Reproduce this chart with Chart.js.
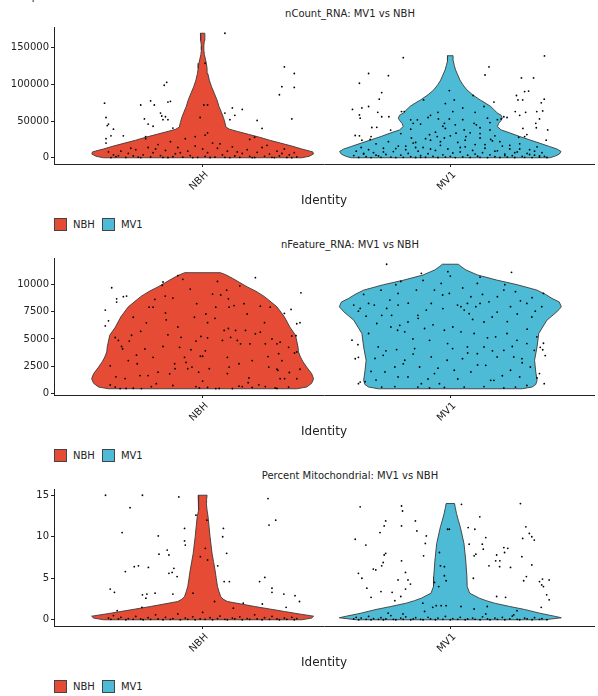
<!DOCTYPE html>
<html>
<head>
<meta charset="utf-8">
<script src="https://cdn.jsdelivr.net/npm/chart.js@4.4.0/dist/chart.umd.min.js"></script>
<style>
  body { margin: 0; background: #fff; width: 598px; height: 696px; overflow: hidden; position: relative; font-family: "DejaVu Sans", sans-serif; color: #222; }
  canvas { position: absolute; left: 0; }
  .ptitle { position: absolute; left: 200px; width: 300px; text-align: center; font-size: 10px; white-space: nowrap; }
  .legend { position: absolute; left: 54px; height: 13px; font-size: 10px; line-height: 13px; white-space: nowrap; }
  .legend .box { display: inline-block; width: 11px; height: 11px; border: 1px solid #444; vertical-align: top; }
  .legend .lab { display: inline-block; margin: 0 7px 0 6px; vertical-align: top; }
</style>
</head>
<body>
<div class="ptitle" style="left:9px;width:auto;top:-9.5px;font-size:10px;">Comparison: MV1 vs NBH</div>

<div class="ptitle" style="top:8px">nCount_RNA: MV1 vs NBH</div>
<canvas id="c1" width="598" height="210" style="top:0px"></canvas>
<div class="legend" style="top:218px"><span class="box" style="background:#E64B35"></span><span class="lab">NBH</span><span class="box" style="background:#4DBBD5"></span><span class="lab">MV1</span></div>

<div class="ptitle" style="top:239px">nFeature_RNA: MV1 vs NBH</div>
<canvas id="c2" width="598" height="205" style="top:236px"></canvas>
<div class="legend" style="top:449px"><span class="box" style="background:#E64B35"></span><span class="lab">NBH</span><span class="box" style="background:#4DBBD5"></span><span class="lab">MV1</span></div>

<div class="ptitle" style="top:470px">Percent Mitochondrial: MV1 vs NBH</div>
<canvas id="c3" width="598" height="202" style="top:470px"></canvas>
<div class="legend" style="top:680px"><span class="box" style="background:#E64B35"></span><span class="lab">NBH</span><span class="box" style="background:#4DBBD5"></span><span class="lab">MV1</span></div>

<script>
// groups on the x axis
const identities = ['NBH', 'MV1'];
const colNBH = '#E64B35';
const colMV1 = '#4DBBD5';

// y tick labels
const countTicks = [0, 50000, 100000, 150000];
const featureTicks = [0, 2500, 5000, 7500, 10000];
const mitoTicks = [0, 5, 10, 15];

// violin outlines: value levels and half widths (in group units)
const nbhCountY = [0, 2000, 5000, 8000, 12000, 16000, 20000, 24000, 28000, 32000, 36000, 39000, 42000, 48000, 55000, 62000, 70000, 79000, 88000, 97000, 106000, 115000, 122000, 129000, 135000, 141000, 147000, 153000, 160000, 166000, 170000];
const nbhCountW = [0.40, 0.43, 0.447, 0.445, 0.40, 0.36, 0.315, 0.27, 0.23, 0.185, 0.14, 0.108, 0.094, 0.09, 0.084, 0.076, 0.066, 0.058, 0.047, 0.036, 0.027, 0.021, 0.018, 0.015, 0.011, 0.007, 0.005, 0.005, 0.007, 0.009, 0.009];
const mv1CountY = [0, 1800, 5000, 8600, 12000, 15400, 20000, 24500, 29000, 34000, 38000, 42600, 47000, 51000, 54000, 58000, 61000, 66000, 70000, 75000, 79000, 86000, 92600, 100000, 106000, 113000, 120000, 126000, 132000, 136000, 139300];
const mv1CountW = [0.40, 0.42, 0.44, 0.447, 0.43, 0.40, 0.36, 0.32, 0.28, 0.24, 0.205, 0.19, 0.195, 0.205, 0.21, 0.205, 0.19, 0.175, 0.163, 0.14, 0.12, 0.09, 0.067, 0.05, 0.039, 0.03, 0.021, 0.016, 0.012, 0.011, 0.011];

const nbhFeatY = [400, 560, 900, 1330, 1800, 2400, 2900, 3330, 3800, 4260, 4800, 5340, 6100, 7040, 7960, 8900, 9400, 9800, 10200, 10600, 10900, 11110];
const nbhFeatW = [0.38, 0.42, 0.44, 0.448, 0.44, 0.42, 0.405, 0.395, 0.387, 0.385, 0.38, 0.375, 0.352, 0.33, 0.30, 0.25, 0.215, 0.18, 0.15, 0.12, 0.095, 0.072];
const mv1FeatY = [400, 560, 800, 1180, 1950, 3030, 4260, 5500, 6730, 7500, 7960, 8400, 8740, 9100, 9500, 10000, 10430, 10900, 11360, 11650, 11890];
const mv1FeatW = [0.29, 0.33, 0.345, 0.35, 0.345, 0.34, 0.35, 0.357, 0.39, 0.43, 0.448, 0.44, 0.41, 0.385, 0.35, 0.27, 0.187, 0.11, 0.063, 0.045, 0.032];

const nbhMitoY = [0, 0.2, 0.43, 0.7, 1.0, 1.3, 1.6, 1.9, 2.2, 2.5, 2.8, 3.4, 4.0, 5.0, 6.0, 7.0, 8.0, 9.0, 10.0, 11.2, 12.4, 13.2, 14.0, 14.5, 15.0];
const nbhMitoW = [0.40, 0.44, 0.448, 0.39, 0.33, 0.27, 0.21, 0.155, 0.10, 0.082, 0.073, 0.066, 0.06, 0.055, 0.05, 0.044, 0.038, 0.034, 0.03, 0.026, 0.022, 0.018, 0.015, 0.016, 0.018];
const mv1MitoY = [0, 0.24, 0.43, 0.8, 1.24, 1.6, 2.0, 2.3, 2.6, 3.2, 4.0, 5.2, 7.2, 9.2, 11.2, 12.0, 12.8, 13.5, 14.0];
const mv1MitoW = [0.38, 0.448, 0.42, 0.36, 0.30, 0.24, 0.178, 0.145, 0.117, 0.078, 0.068, 0.067, 0.062, 0.055, 0.04, 0.032, 0.025, 0.02, 0.017];

// jittered cells: [offset from group centre, value]
const nbhCountPts = [[-0.396,74500],[-0.39,55000],[-0.38,46000],[-0.385,44000],[-0.36,39000],[-0.37,30000],[-0.39,26000],[-0.39,20000],[-0.32,30000],[-0.25,72000],[-0.21,77600],[-0.195,72000],[-0.235,53000],[-0.22,46000],[-0.2,43000],[-0.155,99000],[-0.145,103000],[-0.14,76000],[-0.13,77000],[-0.17,61000],[-0.165,57000],[-0.15,56000],[-0.16,52000],[-0.14,52000],[-0.23,29000],[-0.23,26000],[-0.12,40500],[0.09,170000],[0.01,129000],[0.02,72000],[0.005,72000],[-0.01,55000],[0.09,61000],[0.12,68000],[0.16,66000],[0.13,58000],[0.11,52000],[0.22,51000],[0.24,40000],[0.21,28000],[0.19,25000],[0.33,124000],[0.37,115000],[0.32,97000],[0.37,96000],[0.31,86000],[0.36,53000],[0.01,31000],[-0.03,29000],[0.02,34000],
  [-0.38,8000],[-0.36,4000],[-0.35,1500],[-0.33,9000],[-0.31,500],[-0.3,6000],[-0.28,2500],[-0.27,11000],[-0.26,800],[-0.24,4000],[-0.22,14000],[-0.21,1200],[-0.2,7000],[-0.18,18000],[-0.17,3000],[-0.16,500],[-0.15,10000],[-0.13,22000],[-0.12,1500],[-0.11,5500],[-0.1,14000],[-0.08,800],[-0.07,26000],[-0.06,9000],[-0.05,3000],[-0.03,16000],[-0.02,600],[0,12000],[0.01,2000],[0.02,7000],[0.04,20000],[0.05,1000],[0.06,13000],[0.08,4000],[0.09,600],[0.1,9000],[0.12,15000],[0.13,2500],[0.15,600],[0.16,6000],[0.18,11000],[0.19,1800],[0.21,400],[0.22,7500],[0.24,14000],[0.25,2000],[0.27,5000],[0.28,600],[0.3,9000],[0.31,2500],[0.33,12000],[0.34,500],[0.35,4000],[0.37,7000],[0.38,1200],[-0.37,300],[-0.34,2800],[-0.29,13000],[-0.25,300],[-0.19,12000],[-0.14,400],[-0.09,7000],[-0.04,300],[0.03,400],[0.07,19000],[0.11,300],[0.14,8000],[0.2,300],[0.26,17000],[0.29,300],[0.32,6000],[0.36,200]];

const mv1CountPts = [[-0.19,136600],[0.38,139000],[0.156,124000],[0.14,113000],[-0.33,115000],[-0.25,112000],[-0.367,101700],[0.287,109000],[0.336,109000],[-0.277,89000],[-0.287,80000],[-0.395,66000],[-0.357,68000],[-0.33,70000],[-0.367,58500],[-0.364,54000],[-0.293,62000],[-0.277,56000],[-0.248,56000],[-0.197,63000],[-0.186,63000],[-0.317,41300],[-0.297,41600],[-0.241,37800],[-0.384,30400],[-0.367,30000],[-0.32,29000],[-0.357,24000],[-0.324,25000],[-0.108,79000],[-0.004,91700],[0.016,79000],[0.092,85000],[0.176,76000],[0.136,70000],[0.216,56000],[0.229,55000],[0.267,85000],[0.3,90300],[0.316,91000],[0.273,79000],[0.292,79000],[0.379,80000],[0.367,75000],[0.262,63000],[0.304,62000],[0.349,63000],[0.373,64000],[0.28,58000],[0.345,47000],[0.36,53000],[0.347,41000],[0.393,38000],[0.293,40000],[0.309,31700],[0.3,29000],[0.276,28000],[0.387,24000],
  [-0.16,51800],[-0.15,47000],[-0.133,51800],[-0.09,55000],[-0.05,62000],[-0.048,53000],[-0.024,47000],[-0.03,43000],[-0.053,29000],[-0.004,53000],[0.01,63000],[0.05,52000],[0.056,38000],[0.096,47000],[0.105,45000],[0.15,54000],[0.16,38000],[0.19,52000],[0.205,53000],[0.023,33600],[0.063,29000],[0.12,27000],[0.163,25000],[-0.024,27000],[-0.084,31500],[-0.157,27000],
  [-0.35,6000],[-0.3,3500],[-0.27,8000],[-0.22,12500],[-0.18,16000],[-0.14,21000],[-0.12,600],[-0.1,26000],[-0.08,12000],[-0.06,35000],[-0.04,22000],[-0.02,40000],[0.0,30000],[0.02,45000],[0.04,14000],[0.06,24000],[0.08,34000],[0.1,5000],[0.12,41000],[0.14,18000],[0.16,48000],[0.18,9000],[0.2,22000],[0.22,3000],[0.24,17000],[0.26,7000],[0.28,12000],[0.32,4500],[0.34,9000],[0.36,2500],[-0.2,33000],[-0.16,39000],[-0.12,46000],[-0.08,58000],[0.05,68000],[0.1,62000],[-0.02,74000],[0.12,33000],[-0.14,14000],[0.18,30000],
  [-0.39,3000],[-0.38,9000],[-0.37,500],[-0.36,14000],[-0.35,5000],[-0.34,1500],[-0.33,11000],[-0.32,300],[-0.31,7000],[-0.3,19000],[-0.29,2500],[-0.28,600],[-0.27,13000],[-0.26,4500],[-0.25,22000],[-0.24,1000],[-0.23,8500],[-0.22,300],[-0.21,16000],[-0.2,3500],[-0.19,600],[-0.18,11000],[-0.17,6000],[-0.16,1500],[-0.15,20000],[-0.14,400],[-0.13,9000],[-0.12,3000],[-0.11,14000],[-0.1,700],[-0.09,5500],[-0.08,24000],[-0.07,1800],[-0.06,10000],[-0.05,400],[-0.04,17000],[-0.03,4000],[-0.02,900],[-0.01,12000],[0.0,2000],[0.01,6500],[0.02,300],[0.03,21000],[0.04,8000],[0.05,1200],[0.06,15000],[0.07,3500],[0.08,500],[0.09,10000],[0.1,18000],[0.11,2200],[0.12,600],[0.13,7000],[0.14,13000],[0.15,300],[0.16,4000],[0.17,23000],[0.18,1500],[0.19,9500],[0.2,500],[0.21,16000],[0.22,5000],[0.23,1000],[0.24,12000],[0.25,2800],[0.26,400],[0.27,8000],[0.28,19000],[0.29,1800],[0.3,600],[0.31,6000],[0.32,11000],[0.33,300],[0.34,3500],[0.35,15000],[0.36,900],[0.37,7000],[0.38,2000],[0.39,400]];

const nbhFeatPts = [[-0.393,7660],[-0.38,6670],[-0.367,9720],[-0.347,8700],[-0.347,8400],[-0.32,8900],[-0.307,8950],[-0.393,6200],[-0.16,10250],[-0.163,9950],[-0.1,10840],[0.213,10650],[0.397,9250],[0.357,7720],[0.33,7350],[0.393,6500],[0.38,6400],[0.377,5300],[0.38,3800],[0.393,2200],[0.313,4700],
  [-0.353,5130],[-0.34,4860],[-0.327,4300],[-0.323,4070],[-0.373,2520],[-0.313,1340],[-0.296,4800],[-0.287,5340],[-0.267,3500],[-0.264,2710],[-0.253,1620],[-0.233,4070],[-0.227,6480],[-0.22,1620],[-0.216,7930],[-0.2,7930],[-0.193,8640],[-0.187,870],[-0.18,1930],[-0.16,4300],[-0.151,8950],[-0.147,6760],[-0.14,5380],[-0.133,1780],[-0.12,8770],[-0.113,2710],[-0.111,2250],[-0.093,4220],[-0.087,5150],[-0.073,3300],[-0.067,2830],[-0.06,2250],[-0.047,4000],[-0.043,2400],[-0.033,7000],[-0.027,4800],[-0.024,8250],[-0.016,1930],[-0.009,3400],[-0.007,5230],[0,3400],[0.011,3900],[0.013,7300],[0.02,6500],[0.02,5100],[0.027,2250],[0.04,9140],[0.053,7930],[0.073,9050],[0.08,4860],[0.087,5780],[0.097,9500],[0.104,8700],[0.104,5960],[0.107,7930],[0.1,3300],[0.107,2400],[0.113,5150],[0.127,8080],[0.133,5780],[0.14,4860],[0.147,2710],[0.153,4550],[0.167,8250],[0.173,5780],[0.18,7300],[0.187,1400],[0.184,960],[0.191,4550],[0.213,5470],[0.233,8020],[0.233,5620],[0.253,4550],[0.264,3370],[0.267,2400],[0.273,7930],[0.3,4550],[0.304,2100],[0.307,3640],[0.313,1330],[0.32,2990],[0.331,1330],[0.347,4220],[0.36,5280],[0.371,3700],
  [-0.3,3000],[-0.25,5700],[-0.2,3300],[-0.15,7400],[-0.1,6100],[-0.05,9600],[0,1100],[0.05,6900],[0.1,1800],[0.15,9900],[0.2,3000],[0.25,6500],[0.3,2200],[-0.35,1500],[0.35,1900],[-0.28,7000],[0.28,5000],[-0.08,10500],[0.06,10300],[0.16,600],
  [-0.373,750],[-0.353,560],[-0.333,420],[-0.309,430],[-0.28,450],[-0.247,420],[-0.207,600],[-0.12,700],[-0.027,600],[-0.013,480],[0.02,520],[0.053,420],[0.067,430],[0.12,420],[0.147,640],[0.2,520],[0.227,760],[0.253,600],[0.293,480],[0.3,430],[0.347,560],[0.38,1330]];

const mv1FeatPts = [[-0.257,11890],[-0.117,11050],[0.247,11140],[-0.397,4880],[-0.373,4470],[-0.384,3170],[-0.371,3300],[-0.371,870],[-0.364,1020],[0.376,9200],[0.376,4600],[0.363,4220],[0.373,4000],[0.383,3460],[0.379,870],[0.36,1800],
  [-0.39,8120],[-0.364,7810],[-0.33,8270],[-0.307,8120],[-0.371,7560],[-0.34,7100],[-0.297,6420],[-0.277,7180],[-0.257,7810],[-0.244,8580],[-0.211,9200],[-0.211,8120],[-0.237,7180],[-0.204,6250],[-0.213,5800],[-0.184,5650],[-0.171,6560],[-0.151,5000],[-0.137,9510],[-0.131,7180],[-0.104,5960],[-0.097,7660],[-0.077,8270],[-0.064,9510],[-0.037,10120],[-0.031,9050],[-0.004,9200],[0.029,8120],[0.043,7970],[0.056,7660],[0.069,8270],[0.076,7330],[0.083,8890],[0.103,7970],[0.109,10120],[0.12,8270],[0.136,6560],[0.156,8420],[0.169,7020],[0.189,7480],[0.216,9510],[0.243,7970],[0.263,9360],[0.283,8510],[0.309,8270],[0.329,7020],[0.343,7560],[0.369,7970],
  [-0.291,4260],[-0.271,3490],[-0.304,3200],[-0.217,4020],[-0.224,2410],[-0.264,1950],[-0.211,1490],[-0.184,3030],[-0.171,1490],[-0.144,4110],[-0.124,2410],[-0.117,870],[-0.084,4870],[-0.077,3340],[-0.064,1800],[-0.044,870],[-0.024,5800],[-0.011,4570],[-0.013,3030],[0.009,4110],[0.016,2110],[0.043,5650],[0.049,3180],[0.069,4260],[0.083,1950],[0.096,5500],[0.109,3640],[0.136,4260],[0.143,2560],[0.163,1180],[0.183,5190],[0.189,3340],[0.216,3950],[0.229,5500],[0.243,2110],[0.256,3340],[0.269,4870],[0.28,1490],[0.289,3180],[0.309,4570],[0.323,2410],[0.339,3950],[0.349,5190],[0.176,1180],
  [-0.33,5500],[-0.3,1200],[-0.28,9500],[-0.26,3900],[-0.24,6100],[-0.22,10000],[-0.19,2700],[-0.17,8300],[-0.15,3600],[-0.13,6900],[-0.11,10400],[-0.09,1300],[-0.07,6300],[-0.05,2300],[-0.03,7800],[-0.01,11200],[0.01,6100],[0.03,1300],[0.05,9700],[0.07,3700],[0.09,6800],[0.11,2600],[0.13,9100],[0.15,5100],[0.17,3900],[0.19,8900],[0.21,1600],[0.23,6600],[0.25,4300],[0.27,7300],[0.29,2800],[0.31,5900],[0.33,8800],[0.35,1400],[-0.35,9100],[-0.32,2000],[0.22,10000],[-0.2,10300],[0.0,10800],[0.12,10700],
  [-0.344,1050],[-0.277,560],[-0.224,600],[-0.131,560],[-0.084,480],[-0.024,520],[0.056,560],[0.136,600],[0.216,480],[0.263,560],[0.309,700]];

const nbhMitoPts = [[-0.392,15.0],[-0.243,15.0],[-0.096,14.8],[-0.293,13.5],[-0.325,10.5],[-0.179,10.1],[-0.073,11.0],[-0.073,9.5],[-0.07,9.0],[-0.143,8.4],[-0.136,7.8],[-0.176,7.9],[-0.276,6.4],[-0.259,6.5],[-0.219,6.3],[-0.312,5.8],[-0.116,6.2],[-0.123,5.7],[-0.103,5.2],[-0.136,5.6],[-0.373,3.7],[-0.356,3.3],[-0.243,3.0],[-0.225,3.1],[-0.192,3.2],[-0.229,2.6],[-0.12,3.1],[-0.245,1.5],[-0.345,1.1],[-0.027,12.6],[0.017,12.0],[0.011,8.6],[-0.009,7.6],[0.02,7.2],[-0.039,3.2],[0.048,2.2],[0.084,11.0],[0.081,10.0],[0.097,8.0],[0.061,6.5],[0.087,4.6],[0.108,4.6],[0.164,2.0],[0.124,1.4],[0.264,14.6],[0.295,12.0],[0.268,11.4],[0.251,5.1],[0.23,4.6],[0.28,3.8],[0.28,3.3],[0.328,3.1],[0.373,2.9],[0.391,2.2],[0.337,1.5],[0.241,1.9],
  [-0.38,0.2],[-0.37,0.05],[-0.36,0.5],[-0.34,0.1],[-0.33,0.3],[-0.31,0.0],[-0.3,0.15],[-0.28,0.05],[-0.27,0.4],[-0.25,0.1],[-0.24,0.0],[-0.22,0.25],[-0.21,0.05],[-0.19,0.6],[-0.18,0.1],[-0.16,0.0],[-0.15,0.3],[-0.13,0.05],[-0.12,0.15],[-0.1,0.7],[-0.09,0.0],[-0.07,0.2],[-0.06,0.05],[-0.04,0.35],[-0.03,0.0],[-0.01,0.1],[0.0,0.9],[0.01,0.05],[0.03,0.25],[0.04,0.0],[0.06,0.15],[0.07,0.45],[0.09,0.05],[0.1,0.0],[0.12,0.2],[0.13,0.1],[0.15,0.35],[0.16,0.0],[0.18,0.15],[0.19,0.05],[0.21,0.6],[0.22,0.1],[0.24,0.0],[0.25,0.25],[0.27,0.05],[0.28,0.4],[0.3,0.1],[0.31,0.0],[0.33,0.2],[0.34,0.05],[0.36,0.3],[0.37,0.0],[0.38,0.15]];

const mv1MitoPts = [[-0.364,13.6],[-0.197,13.7],[-0.193,13.1],[-0.261,11.9],[-0.267,11.3],[-0.141,11.9],[-0.197,11.3],[-0.284,10.5],[-0.135,10.7],[-0.097,10.1],[-0.384,9.7],[-0.101,9.2],[-0.341,9.0],[-0.261,8.0],[-0.267,7.8],[-0.108,7.7],[-0.271,6.9],[-0.277,6.5],[-0.197,7.1],[-0.311,6.1],[-0.301,6.0],[-0.181,5.7],[-0.371,5.6],[-0.357,5.0],[-0.211,4.8],[-0.171,4.8],[-0.161,4.3],[-0.181,3.7],[-0.337,3.8],[-0.28,3.4],[-0.235,3.3],[-0.32,2.7],[-0.224,2.3],[-0.2,2.8],[-0.011,10.9],[-0.004,10.9],[-0.044,8.1],[-0.04,6.5],[-0.024,6.4],[-0.024,5.3],[-0.017,4.7],[-0.047,4.0],[-0.064,4.5],[0.045,13.9],[0.119,12.4],[0.072,11.1],[0.099,10.9],[0.143,9.9],[0.076,9.1],[0.129,9.1],[0.133,8.5],[0.103,7.9],[0.096,7.7],[0.156,6.5],[0.093,5.0],[0.187,7.8],[0.2,7.1],[0.183,7.1],[0.216,8.7],[0.232,8.6],[0.219,8.1],[0.199,6.4],[0.243,6.3],[0.187,2.8],[0.223,2.7],[0.283,14.0],[0.305,11.2],[0.292,9.8],[0.319,10.4],[0.329,10.0],[0.339,9.6],[0.289,7.6],[0.329,6.6],[0.307,5.2],[0.296,4.7],[0.372,4.9],[0.399,4.8],[0.36,4.6],[0.369,4.2],[0.376,4.0],[0.389,3.0],[0.399,2.4],[0.367,1.5],[-0.111,2.0],[-0.071,1.5],[-0.057,1.7],[-0.037,1.7],[-0.017,1.7],[-0.104,1.0],[-0.251,0.8],[-0.191,0.7],[0.043,1.6],[0.096,1.3],[0.149,1.6],[0.143,0.7],[0.269,1.1],[0.256,0.6],
  [-0.39,0.1],[-0.38,0.3],[-0.37,0.0],[-0.36,0.2],[-0.34,0.05],[-0.33,0.4],[-0.32,0.0],[-0.31,0.15],[-0.29,0.05],[-0.28,0.25],[-0.27,0.0],[-0.26,0.1],[-0.24,0.5],[-0.23,0.05],[-0.22,0.0],[-0.2,0.2],[-0.19,0.05],[-0.18,0.35],[-0.16,0.0],[-0.15,0.1],[-0.14,0.25],[-0.12,0.05],[-0.11,0.0],[-0.09,0.3],[-0.08,0.1],[-0.06,0.0],[-0.05,0.2],[-0.03,0.05],[-0.02,0.4],[0.0,0.0],[0.01,0.15],[0.03,0.05],[0.04,0.3],[0.06,0.0],[0.07,0.1],[0.09,0.2],[0.1,0.05],[0.12,0.0],[0.13,0.35],[0.15,0.1],[0.16,0.0],[0.18,0.2],[0.19,0.05],[0.21,0.3],[0.22,0.0],[0.24,0.1],[0.25,0.45],[0.27,0.05],[0.28,0.0],[0.3,0.2],[0.31,0.1],[0.33,0.0],[0.34,0.25],[0.36,0.05],[0.37,0.15],[0.39,0.0]];

// closed outline: right side going up, left side coming down
function violinShape(centre, levels, widths) {
  const pts = [];
  for (let i = 0; i < levels.length; i++) pts.push({ x: centre + widths[i], y: levels[i] });
  for (let i = levels.length - 1; i >= 0; i--) pts.push({ x: centre - widths[i], y: levels[i] });
  pts.push(pts[0]);
  return pts;
}

function jitter(centre, cells) {
  return cells.map(c => ({ x: centre + c[0], y: c[1] }));
}

function drawPanel(id, padTop, yMin, yMax, yTicks, nbhY, nbhW, mv1Y, mv1W, nbhPts, mv1Pts) {
  const ctx = document.getElementById(id).getContext('2d');
  const dotStyle = { type: 'scatter', pointRadius: 0.9, pointBackgroundColor: '#000', pointBorderWidth: 0, order: 0 };
  const violinStyle = { type: 'line', fill: 'shape', borderColor: '#3a3a3a', borderWidth: 0.9, pointRadius: 0, tension: 0, order: 1 };

  new Chart(ctx, {
    type: 'scatter',
    data: {
      datasets: [
        Object.assign({ label: 'NBH cells', data: jitter(1, nbhPts) }, dotStyle),
        Object.assign({ label: 'MV1 cells', data: jitter(2, mv1Pts) }, dotStyle),
        Object.assign({ label: 'NBH', data: violinShape(1, nbhY, nbhW), backgroundColor: colNBH }, violinStyle),
        Object.assign({ label: 'MV1', data: violinShape(2, mv1Y, mv1W), backgroundColor: colMV1 }, violinStyle)
      ]
    },
    options: {
      responsive: false,
      animation: false,
      layout: { padding: { top: padTop, left: 0, right: 0, bottom: 0 } },
      plugins: { legend: { display: false }, tooltip: { enabled: false } },
      scales: {
        x: {
          type: 'linear',
          min: 0.4,
          max: 2.58,
          afterBuildTicks: (s) => { s.ticks = [{ value: 1 }, { value: 2 }]; },
          afterFit: (s) => { s.height = 46; },
          ticks: {
            callback: (v) => identities[v - 1],
            minRotation: 45,
            maxRotation: 45,
            padding: 2,
            labelOffset: 4,
            color: '#222',
            font: { family: 'DejaVu Sans', size: 10 }
          },
          grid: { drawOnChartArea: false, drawTicks: true, tickLength: 3, color: '#222' },
          border: { color: '#222', width: 1 },
          title: {
            display: true,
            text: 'Identity',
            color: '#222',
            font: { family: 'DejaVu Sans', size: 12 },
            padding: { top: 0, bottom: 2.4 }
          }
        },
        y: {
          min: yMin,
          max: yMax,
          afterBuildTicks: (s) => { s.ticks = yTicks.map(v => ({ value: v })); },
          afterFit: (s) => { s.width = 54; },
          ticks: {
            callback: (v) => String(v),
            padding: 2,
            color: '#222',
            font: { family: 'DejaVu Sans', size: 10 }
          },
          grid: { drawOnChartArea: false, drawTicks: true, tickLength: 3, color: '#222' },
          border: { color: '#222', width: 1 }
        }
      }
    }
  });
}

drawPanel('c1', 27, -8500, 178500, countTicks, nbhCountY, nbhCountW, mv1CountY, mv1CountW, nbhCountPts, mv1CountPts);
drawPanel('c2', 22, -175, 12465, featureTicks, nbhFeatY, nbhFeatW, mv1FeatY, mv1FeatW, nbhFeatPts, mv1FeatPts);
drawPanel('c3', 19, -0.75, 15.75, mitoTicks, nbhMitoY, nbhMitoW, mv1MitoY, mv1MitoW, nbhMitoPts, mv1MitoPts);
</script>
</body>
</html>
